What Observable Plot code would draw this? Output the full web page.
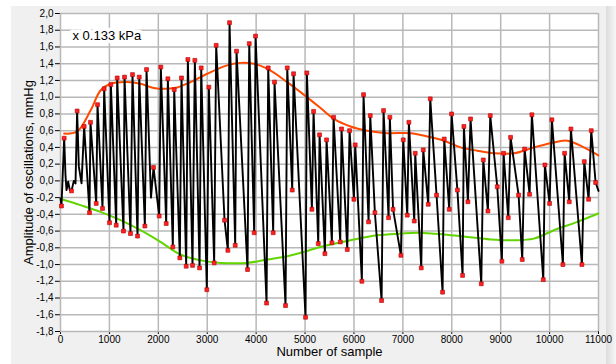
<!DOCTYPE html>
<html>
<head>
<meta charset="utf-8">
<script src="https://cdn.jsdelivr.net/npm/d3@7"></script>
<script src="https://cdn.jsdelivr.net/npm/@observablehq/plot@0.6"></script>
<style>
  html, body { margin: 0; padding: 0; background: #ffffff; }
  #wrap { position: relative; width: 616px; height: 364px; overflow: hidden; background: #ffffff; }
  #bg { position: absolute; left: 11px; top: 6px; width: 595px; height: 358px; background: #f0f0f0; }
  #edge { position: absolute; left: 606px; top: 6px; width: 10px; height: 358px; background: linear-gradient(to right, #dcdcdc, #f6f6f6); }
  #chart { position: absolute; left: 0; top: 0; }
</style>
</head>
<body>
<div id="wrap"><div id="bg"></div><div id="edge"></div><div id="chart"></div></div>
<script>
// ---- data ----
const peakX = [75,340,484,613,757,893,1030,1159,1309,1472,1610,1759,1902,2051,2195,2325,2474,2604,2747,2877,3033,3183,3456,3599,3859,3988,4247,4376,4636,4765,5037,5174,5297,5440,5583,5746,5910,6026,6196,6333,6605,6734,7008,7123,7253,7417,7560,7846,7996,8248,8384,8644,8787,9059,9202,9489,9638,9904,10047,10307,10436,10709,10852];
const peakY = [0.51,0.835,0.65,0.70,0.91,1.10,1.15,1.23,1.24,1.27,1.24,1.33,0.16,1.36,1.22,1.09,1.23,1.45,1.44,1.35,1.12,1.62,1.89,1.55,1.64,1.73,1.35,1.18,1.35,1.28,1.29,0.83,0.55,0.49,0.76,0.62,0.60,0.43,1.03,0.78,0.84,0.76,0.49,0.70,0.33,0.37,0.98,0.50,0.80,0.65,0.74,0.25,0.78,0.33,0.52,0.38,0.79,0.19,0.73,0.33,0.62,0.23,0.60];

const troughX = [20,225,593,730,859,1002,1139,1288,1431,1575,1725,2018,2161,2297,2440,2570,2699,2843,2992,3142,3354,3422,3572,3824,3960,4213,4349,4601,4738,5010,5140,5270,5406,5549,5720,5863,5999,6162,6299,6428,6565,6708,6800,6960,7090,7233,7376,7519,7689,7812,7948,8115,8221,8330,8603,8739,8930,9025,9155,9366,9441,9591,9871,10000,10272,10402,10661,10798,10941];
const troughY = [-0.30,-0.12,-0.38,-0.27,-0.33,-0.50,-0.53,-0.60,-0.63,-0.66,-0.54,-0.42,-0.51,-0.79,-0.92,-1.02,-1.01,-1.04,-1.30,-0.98,-0.47,-0.83,-0.77,-1.06,-0.62,-1.46,-0.62,-1.49,-0.11,-1.63,-0.34,-0.75,-0.87,-0.74,-0.73,-0.82,-0.22,-1.20,-0.49,-0.38,-1.43,-0.44,-0.34,-0.89,-0.41,-0.48,-1.04,-0.28,-0.17,-1.33,-0.34,-0.11,-1.13,-0.25,-1.23,-0.36,-0.07,-0.96,-0.44,-0.17,-0.94,-0.16,-1.18,-0.27,-1.00,-0.25,-1.00,-0.22,-0.02];

// unmarked turning points of the signal (noise at start, notches, end)
const extraX = [0,102,123,157,190,272,307,375,430,1850,11000];
const extraY = [-0.21,0.07,-0.11,-0.01,-0.11,0.00,-0.03,0.17,-0.03,-0.20,-0.12];

// upper (orange) envelope
const upX = [75,340,613,818,1022,1363,1636,1908,2181,2386,2658,3000,3408,3681,3953,4226,4636,4908,5317,5590,5930,6272,6681,7157,7498,7839,8180,8521,8861,9270,9679,10020,10361,10702,10996];
const upY = [0.565,0.59,0.84,1.08,1.16,1.18,1.16,1.11,1.10,1.115,1.18,1.28,1.38,1.41,1.40,1.34,1.18,1.06,0.87,0.74,0.65,0.60,0.57,0.57,0.53,0.48,0.40,0.36,0.33,0.33,0.40,0.45,0.48,0.40,0.305];

// lower (green) envelope
const loX = [20,409,818,1227,1636,2045,2454,2863,3272,3817,4226,4636,4908,5317,5930,6476,6953,7294,7839,8316,8793,9270,9679,10088,10566,10996];
const loY = [-0.22,-0.29,-0.37,-0.47,-0.59,-0.73,-0.88,-0.95,-0.98,-0.98,-0.94,-0.90,-0.86,-0.79,-0.71,-0.65,-0.63,-0.62,-0.64,-0.67,-0.70,-0.71,-0.69,-0.59,-0.49,-0.39];

const xTicks = [0,1000,2000,3000,4000,5000,6000,7000,8000,9000,10000,11000];
const yTicks = [-1.8,-1.6,-1.4,-1.2,-1.0,-0.8,-0.6,-0.4,-0.2,0,0.2,0.4,0.6,0.8,1.0,1.2,1.4,1.6,1.8,2.0];

const yLabel = "Amplitude of oscillations, mmHg";
const xLabel = "Number of sample";
const unitNote = "x 0.133 kPa";

// ---- build tables ----
const markers = peakX.map((x, i) => ({x, y: peakY[i]}))
  .concat(troughX.map((x, i) => ({x, y: troughY[i]})));
const wave = markers.concat(extraX.map((x, i) => ({x, y: extraY[i]})))
  .sort((a, b) => a.x - b.x);
const upper = upX.map((x, i) => ({x, y: upY[i]}));
const lower = loX.map((x, i) => ({x, y: loY[i]}));

const fmtY = d => d3.format(".1f")(d).replace("−", "-").replace(".", ",");

const chart = Plot.plot({
  width: 616,
  height: 364,
  marginLeft: 60,
  marginRight: 18,
  marginTop: 13,
  marginBottom: 33,
  style: {background: "transparent", fontFamily: "'Liberation Sans', Arial, sans-serif", fontSize: "10px", color: "#000", overflow: "visible"},
  x: {domain: [0, 11000], ticks: xTicks, tickFormat: d => String(d), tickSize: 3, tickPadding: 1, label: null},
  y: {domain: [-1.8, 2.0], ticks: yTicks, tickFormat: fmtY, tickSize: 5, tickPadding: 2, label: null},
  marks: [
    Plot.frame({fill: "#ffffff", stroke: null}),
    Plot.gridX(xTicks, {stroke: "#b8b8b8", strokeOpacity: 1, strokeWidth: 1.5}),
    Plot.gridY(yTicks, {stroke: "#b8b8b8", strokeOpacity: 1, strokeWidth: 1.5}),
    Plot.text([unitNote], {frameAnchor: "top-left", dx: 12, dy: 17, text: d => d, textAnchor: "start", fontSize: 13, fill: "#000", stroke: "#ffffff", strokeWidth: 7, fontFamily: "'Liberation Sans', Arial, sans-serif"}),
    Plot.line(upper, {x: "x", y: "y", stroke: "#ff4a00", strokeWidth: 2, curve: "catmull-rom"}),
    Plot.line(lower, {x: "x", y: "y", stroke: "#62d400", strokeWidth: 2, curve: "catmull-rom"}),
    Plot.line(wave, {x: "x", y: "y", stroke: "#000000", strokeWidth: 1.9}),
    Plot.dot(markers, {x: "x", y: "y", symbol: "square", r: 2.2, fill: "#ff2020", stroke: "#b00000", strokeWidth: 0.6}),
    Plot.text([yLabel], {frameAnchor: "left", dx: -32, rotate: -90, textAnchor: "middle", text: d => d, fontSize: 13, fill: "#000"}),
    Plot.text([xLabel], {frameAnchor: "bottom", dy: 24, textAnchor: "middle", text: d => d, fontSize: 13, fill: "#000"})
  ]
});
document.getElementById("chart").appendChild(chart);
</script>
</body>
</html>
